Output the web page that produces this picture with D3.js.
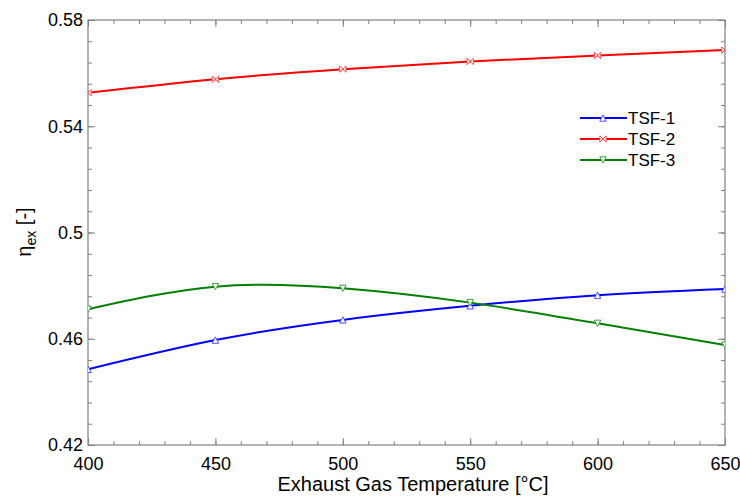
<!DOCTYPE html>
<html>
<head>
<meta charset="utf-8">
<script src="https://cdn.jsdelivr.net/npm/d3@7"></script>
<style>
  body { margin: 0; background: #fff; }
  text { font-family: "Liberation Sans", Arial, sans-serif; fill: #000; }
</style>
</head>
<body>
<div id="chart"></div>
<script>
const temps = [400, 450, 500, 550, 600, 650];
const tsf1 = [0.4485, 0.4595, 0.4671, 0.4724, 0.4764, 0.4787];
const tsf2 = [0.5526, 0.5577, 0.5615, 0.5644, 0.5666, 0.5687];
const tsf3 = [0.4711, 0.4796, 0.4790, 0.4736, 0.4658, 0.4576];
const xTicks = [400, 450, 500, 550, 600, 650];
const yTicks = [0.42, 0.46, 0.5, 0.54, 0.58];

const series = [
  {name: 'TSF-1', values: tsf1, color: '#0000ff', mark: '#4d4dff', shape: 'up'},
  {name: 'TSF-2', values: tsf2, color: '#ff0000', mark: '#ff4d4d', shape: 'bow'},
  {name: 'TSF-3', values: tsf3, color: '#008000', mark: '#3f9f3f', shape: 'down'}
];

const width = 740, height = 498;
const m = {left: 88, right: 15, top: 20, bottom: 53};

const svg = d3.select('#chart').append('svg')
  .attr('width', width).attr('height', height);

const x = d3.scaleLinear().domain([400, 650]).range([m.left, width - m.right]);
const y = d3.scaleLinear().domain([0.42, 0.58]).range([height - m.bottom, m.top]);

const xMinor = d3.range(400, 651, 10);
const yMinor = d3.range(0, 21).map(i => 0.42 + i * 0.008);

const axisCol = '#808080';

// minor ticks, all four sides
function drawAxis(axis, tr) {
  const g = svg.append('g').attr('transform', tr).call(axis);
  g.select('.domain').remove();
  g.selectAll('.tick line').attr('stroke', axisCol);
  return g;
}
drawAxis(d3.axisBottom(x).tickValues(xMinor).tickSize(-4).tickFormat(''), `translate(0,${y(0.42)})`);
drawAxis(d3.axisTop(x).tickValues(xMinor).tickSize(-4).tickFormat(''), `translate(0,${y(0.58)})`);
drawAxis(d3.axisLeft(y).tickValues(yMinor).tickSize(-4).tickFormat(''), `translate(${x(400)},0)`);
drawAxis(d3.axisRight(y).tickValues(yMinor).tickSize(-4).tickFormat(''), `translate(${x(650)},0)`);

// major ticks with labels
const gx = drawAxis(d3.axisBottom(x).tickValues(xTicks).tickSize(-7).tickPadding(12).tickFormat(d3.format('d')), `translate(0,${y(0.42)})`);
gx.selectAll('text').attr('font-size', 18).attr('fill', '#000');
drawAxis(d3.axisTop(x).tickValues(xTicks).tickSize(-7).tickFormat(''), `translate(0,${y(0.58)})`);
const gy = drawAxis(d3.axisLeft(y).tickValues(yTicks).tickSize(-7).tickPadding(5).tickFormat(d => d === 0.5 ? '0.5' : d3.format('.2f')(d)), `translate(${x(400)},0)`);
gy.selectAll('text').attr('font-size', 18).attr('fill', '#000');
drawAxis(d3.axisRight(y).tickValues(yTicks).tickSize(-7).tickFormat(''), `translate(${x(650)},0)`);

// frame
svg.append('rect')
  .attr('x', x(400)).attr('y', y(0.58))
  .attr('width', x(650) - x(400)).attr('height', y(0.42) - y(0.58))
  .attr('fill', 'none').attr('stroke', axisCol).attr('stroke-width', 1.2);

svg.append('clipPath').attr('id', 'plotclip').append('rect')
  .attr('x', x(400)).attr('y', y(0.58))
  .attr('width', x(650) - x(400)).attr('height', y(0.42) - y(0.58));

const line = d3.line()
  .x((d, i) => x(temps[i]))
  .y(d => y(d))
  .curve(d3.curveNatural);

function markerPath(shape) {
  const s = 3.2;
  if (shape === 'up') return `M0,${-s}L${s},${s}L${-s},${s}Z`;
  if (shape === 'down') return `M0,${s}L${s},${-s}L${-s},${-s}Z`;
  return `M${-s},${-s}L${s},${s}L${s},${-s}L${-s},${s}Z`;
}

const plot = svg.append('g').attr('clip-path', 'url(#plotclip)');

series.forEach(s => {
  plot.append('path')
    .datum(s.values)
    .attr('d', line)
    .attr('fill', 'none')
    .attr('stroke', s.color)
    .attr('stroke-width', 2);
  plot.selectAll(null)
    .data(s.values)
    .enter().append('path')
    .attr('transform', (d, i) => `translate(${x(temps[i])},${y(d)})`)
    .attr('d', markerPath(s.shape))
    .attr('fill', '#fff')
    .attr('stroke', s.mark)
    .attr('stroke-width', 1);
});

// legend
const lg = svg.append('g').attr('transform', 'translate(580,118)');
series.forEach((s, i) => {
  const row = lg.append('g').attr('transform', `translate(0,${i * 21})`);
  row.append('line').attr('x1', 0).attr('x2', 47).attr('y1', 0).attr('y2', 0)
    .attr('stroke', s.color).attr('stroke-width', 2);
  row.append('path').attr('transform', 'translate(23,0)')
    .attr('d', markerPath(s.shape)).attr('fill', '#fff')
    .attr('stroke', s.mark).attr('stroke-width', 1);
  row.append('text').attr('x', 48).attr('y', 6).attr('font-size', 17).text(s.name);
});

// axis titles
svg.append('text')
  .attr('x', 413).attr('y', 491)
  .attr('text-anchor', 'middle')
  .attr('font-size', 20)
  .text('Exhaust Gas Temperature [°C]');

const yt = svg.append('text')
  .attr('transform', 'translate(31,232) rotate(-90)')
  .attr('text-anchor', 'middle')
  .attr('font-size', 20);
yt.append('tspan').text('η');
yt.append('tspan').attr('font-size', 14).attr('dy', 5).text('ex');
yt.append('tspan').attr('dy', -5).text(' [-]');
</script>
</body>
</html>
